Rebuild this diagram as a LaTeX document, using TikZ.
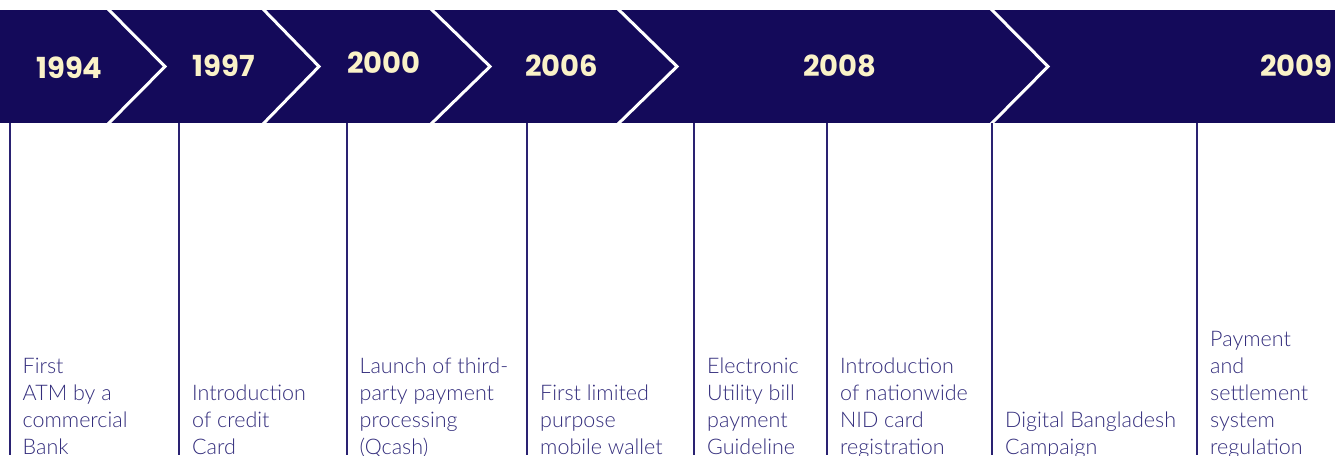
\documentclass[tikz,border=0pt]{standalone}
\usepackage{fontspec}
\setmainfont{Lato Light}
\newfontfamily\yearfont{Poppins}
\usepackage{xcolor}
\definecolor{band}{HTML}{140A5A}
\definecolor{cream}{HTML}{FAF2C8}
\definecolor{ink}{HTML}{332D7C}
\definecolor{linecol}{HTML}{2A2272}

\begin{document}
\begin{tikzpicture}[x=1pt,y=-1pt,
    year/.style={anchor=base,text=cream,inner sep=0pt,font=\yearfont\bfseries\fontsize{29}{31}\selectfont},
    desc/.style={anchor=base west,text=ink,align=left,inner sep=0pt,font=\fontsize{21.5}{27}\selectfont},
    chev/.style={draw=white,line width=3pt},
    divider/.style={draw=linecol,line width=1.2pt}]
            \clip (0,0) rectangle (1335,455);

            \fill[band] (0,10) rectangle (1335,123);
            \draw[chev] (107,8) -- (165,66.5) -- (107,125);
            \draw[chev] (262,8) -- (319,66.5) -- (262,125);
            \draw[chev] (430,8) -- (490,66.5) -- (430,125);
            \draw[chev] (617,8) -- (677,66.5) -- (617,125);
            \draw[chev] (990,8) -- (1048,66.5) -- (990,125);

            \node[year] (y1994) at (69.5,78) {1994};
            \node[year] (y1997) at (223.5,76) {1997};
            \node[year] (y2000) at (384,73) {2000};
            \node[year] (y2006) at (561.5,76) {2006};
            \node[year] (y2008) at (840,76) {2008};
            \node[year] (y2009) at (1296.5,76) {2009};

            \draw[divider] (10,123) -- (10,455);
            \draw[divider] (179,123) -- (179,455);
            \draw[divider] (347,123) -- (347,455);
            \draw[divider] (527,123) -- (527,455);
            \draw[divider] (694,123) -- (694,455);
            \draw[divider] (827,123) -- (827,455);
            \draw[divider] (992,123) -- (992,455);
            \draw[divider] (1197,123) -- (1197,455);

            % all columns end on the same baseline
            \node[desc] (atm) at (22.5,454) {First\\ATM by a\\commercial\\Bank};
            \node[desc] (card) at (192,454) {Introduction\\of credit\\Card};
            \node[desc] (qcash) at (359.5,454) {Launch of third-\\party payment\\processing\\(Qcash)};
            \node[desc] (wallet) at (540,454) {First limited\\purpose\\mobile wallet};
            \node[desc] (bill) at (707,454) {Electronic\\Utility bill\\payment\\Guideline};
            \node[desc] (nid) at (840,454) {Introduction\\of nationwide\\NID card\\registration};
            \node[desc] (digital) at (1005,454) {Digital Bangladesh\\Campaign};
            \node[desc] (psr) at (1210,454) {Payment\\and\\settlement\\system\\regulation};

        		\end{tikzpicture}
\end{document}
